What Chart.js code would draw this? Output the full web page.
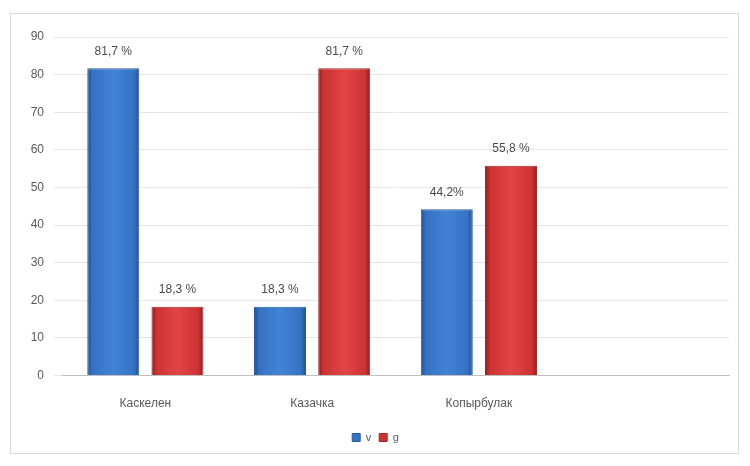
<!DOCTYPE html>
<html><head><meta charset="utf-8">
<script src="https://cdn.jsdelivr.net/npm/chart.js@4"></script>
<style>
html,body{margin:0;padding:0;background:#fff;}
#wrap{position:relative;width:750px;height:466px;}
#frame{position:absolute;left:10px;top:13px;width:729px;height:441px;border:1px solid #d9d9d9;box-sizing:border-box;}
canvas{position:absolute;left:0;top:0;}
</style></head>
<body><div id="wrap"><div id="frame"></div><canvas id="c" width="750" height="466"></canvas></div>
<script>
const categories = ["Каскелен", "Казачка", "Копырбулак", ""];
const seriesNames = ["v", "g"];
const seriesV = [81.7, 18.3, 44.2, null];
const seriesG = [18.3, 81.7, 55.8, null];
const labelsV = ["81,7 %", "18,3 %", "44,2%", ""];
const labelsG = ["18,3 %", "81,7 %", "55,8 %", ""];
const yTicks = [0, 10, 20, 30, 40, 50, 60, 70, 80, 90];

const palettes = [
  ['#23508c', '#3572c2', '#4283d6'],
  ['#8a1e1e', '#cc3333', '#e24444']
];

const gradPlugin = {
  id: 'grads',
  beforeDatasetsDraw(chart) {
    const ctx = chart.ctx;
    chart.data.datasets.forEach((ds, di) => {
      const [dark, mid, light] = palettes[di];
      chart.getDatasetMeta(di).data.forEach((bar, i) => {
        if (ds.data[i] == null) return;
        if (!isFinite(bar.x) || !isFinite(bar.width) || !bar.width) return;
        const x0 = bar.x - bar.width / 2, x1 = bar.x + bar.width / 2;
        const g = ctx.createLinearGradient(x0, 0, x1, 0);
        g.addColorStop(0, dark);
        g.addColorStop(0.1, mid);
        g.addColorStop(0.5, light);
        g.addColorStop(0.9, mid);
        g.addColorStop(1, dark);
        bar.options = Object.assign({}, bar.options, { backgroundColor: g });
      });
    });
  }
};

const labelPlugin = {
  id: 'vals',
  afterDatasetsDraw(chart) {
    const ctx = chart.ctx;
    ctx.save();
    ctx.font = '12px "Liberation Sans", Arial, sans-serif';
    ctx.fillStyle = '#4a4a4a';
    ctx.textAlign = 'center';
    ctx.textBaseline = 'bottom';
    const texts = [labelsV, labelsG];
    chart.data.datasets.forEach((ds, di) => {
      chart.getDatasetMeta(di).data.forEach((bar, i) => {
        if (ds.data[i] == null) return;
        ctx.fillText(texts[di][i], bar.x, bar.y - 11);
      });
    });
    ctx.restore();
  }
};

new Chart(document.getElementById('c'), {
  type: 'bar',
  data: {
    labels: categories,
    datasets: [
      { label: seriesNames[0], data: seriesV,
        backgroundColor: () => palettes[0][1],
        borderColor: '#2a5a9a', borderWidth: 1,
        categoryPercentage: 0.77, barPercentage: 0.81 },
      { label: seriesNames[1], data: seriesG,
        backgroundColor: () => palettes[1][1],
        borderColor: '#9e2828', borderWidth: 1,
        categoryPercentage: 0.77, barPercentage: 0.81 }
    ]
  },
  options: {
    responsive: false,
    animation: false,
    layout: { padding: { left: 22, right: 21, top: 37, bottom: 13 } },
    plugins: {
      legend: {
        position: 'bottom',
        labels: {
          boxWidth: 8, boxHeight: 8, color: '#595959',
          font: { size: 11, family: '"Liberation Sans", Arial, sans-serif' },
          padding: 8
        }
      },
      tooltip: { enabled: false }
    },
    scales: {
      x: {
        grid: { display: false },
        border: { color: '#bfbfbf' },
        ticks: { color: '#595959', font: { size: 12, family: '"Liberation Sans", Arial, sans-serif' }, padding: 13 }
      },
      y: {
        min: 0, max: 90,
        afterBuildTicks: s => { s.ticks = yTicks.map(v => ({ value: v })); },
        afterFit: s => { s.width = 40; },
        grid: { color: '#e6e6e6' },
        border: { display: false },
        ticks: { color: '#595959', font: { size: 12, family: '"Liberation Sans", Arial, sans-serif' }, padding: 10 }
      }
    }
  },
  plugins: [gradPlugin, labelPlugin]
});
</script></body></html>
